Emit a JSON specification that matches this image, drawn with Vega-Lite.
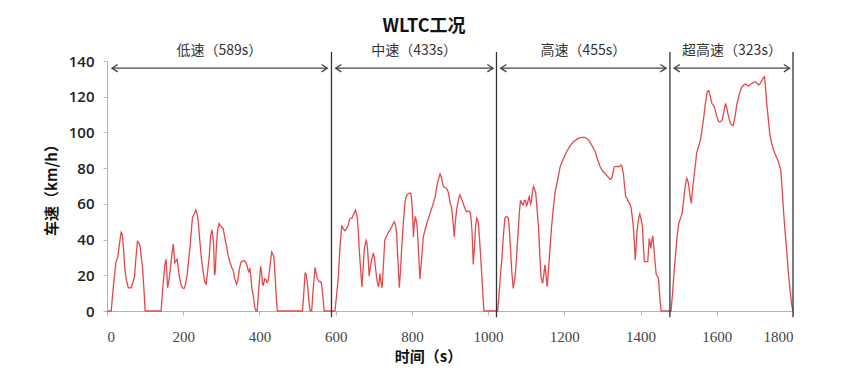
{
  "$schema": "https://vega.github.io/schema/vega-lite/v6.json",
  "width": 686,
  "height": 250,
  "autosize": "none",
  "padding": {"left": 107, "top": 61, "right": 53, "bottom": 64},
  "background": "white",
  "title": {"text": "WLTC工况", "font": "Noto Sans CJK SC", "fontSize": 18, "fontWeight": "bold", "color": "#111", "anchor": "middle", "frame": "group", "dx": -26, "offset": 8},
  "config": {"view": {"stroke": null}, "axis": {"labelOverlap": false}, "axisY": {"labelOverlap": false, "tickCount": 8}},
  "datasets": {
    "speed": [
      {"t":0,"v":0},{"t":11,"v":0},{"t":16,"v":12},{"t":23,"v":27},{"t":28,"v":30},{"t":33,"v":38},{"t":37,"v":44},{"t":40,"v":43},{"t":43,"v":36},{"t":47,"v":23},{"t":51,"v":17},{"t":56,"v":13},{"t":63,"v":13},{"t":68,"v":16},{"t":72,"v":19},{"t":76,"v":30},{"t":80,"v":39},{"t":84,"v":38},{"t":87,"v":36},{"t":90,"v":30},{"t":93,"v":25},{"t":97,"v":12},{"t":100,"v":0},
      {"t":142,"v":0},{"t":147,"v":15},{"t":152,"v":26},{"t":155,"v":29},{"t":157,"v":22},{"t":159,"v":13},{"t":163,"v":18},{"t":167,"v":25},{"t":171,"v":33},{"t":174,"v":37.5},{"t":176,"v":32},{"t":178,"v":27},{"t":181,"v":28},{"t":184,"v":29},{"t":187,"v":24},{"t":190,"v":19},{"t":194,"v":15},{"t":198,"v":13},{"t":202,"v":12.5},{"t":205,"v":14},{"t":210,"v":20},{"t":214,"v":28},{"t":218,"v":36},{"t":224,"v":52},{"t":233,"v":56.5},{"t":237,"v":54},{"t":240,"v":49},{"t":244,"v":38},{"t":248,"v":29},{"t":253,"v":21},{"t":257,"v":16},{"t":260,"v":15},{"t":264,"v":22},{"t":268,"v":30},{"t":272,"v":42},{"t":275,"v":45.5},{"t":278,"v":42},{"t":280,"v":36},{"t":282,"v":20},{"t":284,"v":22},{"t":287,"v":36},{"t":290,"v":45},{"t":294,"v":49},{"t":298,"v":47.5},{"t":301,"v":47},{"t":305,"v":46},{"t":310,"v":40},{"t":314,"v":36},{"t":318,"v":31},{"t":323,"v":27},{"t":328,"v":24},{"t":331,"v":23},{"t":335,"v":18},{"t":340,"v":15},{"t":343,"v":17},{"t":347,"v":23},{"t":351,"v":27},{"t":356,"v":28},{"t":361,"v":28},{"t":365,"v":27},{"t":368,"v":25},{"t":370,"v":23},{"t":372,"v":22},{"t":375,"v":24},{"t":378,"v":18},{"t":380,"v":13},{"t":384,"v":8},{"t":388,"v":2},{"t":391,"v":0},{"t":394,"v":0},{"t":398,"v":12},{"t":403,"v":25},{"t":406,"v":21},{"t":408,"v":15},{"t":410,"v":14.5},{"t":414,"v":18},{"t":417,"v":17.5},{"t":420,"v":16},{"t":423,"v":17},{"t":427,"v":24},{"t":432,"v":33},{"t":435,"v":32},{"t":438,"v":30},{"t":441,"v":20},{"t":444,"v":8},{"t":447,"v":0},
      {"t":513,"v":0},{"t":517,"v":12},{"t":520,"v":21.5},{"t":523,"v":20},{"t":526,"v":15},{"t":530,"v":5},{"t":533,"v":0},{"t":537,"v":0},{"t":541,"v":12},{"t":546,"v":24.5},{"t":549,"v":21},{"t":552,"v":18},{"t":557,"v":16.5},{"t":561,"v":16.5},{"t":563,"v":15},{"t":567,"v":7},{"t":570,"v":0},
      {"t":598,"v":0},{"t":602,"v":8},{"t":607,"v":19},{"t":611,"v":35},{"t":616,"v":48},{"t":620,"v":46},{"t":624,"v":45},{"t":628,"v":46},{"t":633,"v":48},{"t":636,"v":51},{"t":639,"v":52},{"t":643,"v":52},{"t":646,"v":53.7},{"t":649,"v":55},{"t":652,"v":56.5},{"t":655,"v":54},{"t":657,"v":52},{"t":660,"v":42},{"t":662,"v":34},{"t":666,"v":22},{"t":669,"v":13.5},{"t":672,"v":24},{"t":675,"v":34},{"t":678,"v":38},{"t":680,"v":39.5},{"t":682,"v":38},{"t":684,"v":34},{"t":688,"v":19.5},{"t":691,"v":24},{"t":694,"v":28.5},{"t":697,"v":31},{"t":699,"v":32.5},{"t":702,"v":29},{"t":704,"v":25},{"t":708,"v":18},{"t":712,"v":13.5},{"t":714,"v":16},{"t":716,"v":21},{"t":719,"v":16},{"t":722,"v":13},{"t":725,"v":25},{"t":729,"v":40},{"t":734,"v":42},{"t":738,"v":44},{"t":742,"v":45},{"t":747,"v":47},{"t":751,"v":49},{"t":754,"v":50},{"t":757,"v":48},{"t":760,"v":43.5},{"t":763,"v":30},{"t":767,"v":13},{"t":770,"v":22},{"t":773,"v":34},{"t":777,"v":48},{"t":782,"v":61},{"t":785,"v":64},{"t":788,"v":65},{"t":792,"v":66},{"t":797,"v":66},{"t":799,"v":63},{"t":801,"v":57.5},{"t":803,"v":48},{"t":804,"v":41.5},{"t":806,"v":48},{"t":809,"v":53},{"t":811,"v":51},{"t":814,"v":47},{"t":817,"v":35},{"t":821,"v":18},{"t":825,"v":28},{"t":830,"v":41.5},{"t":834,"v":45},{"t":839,"v":49},{"t":845,"v":53},{"t":852,"v":57.5},{"t":857,"v":61},{"t":861,"v":64},{"t":864,"v":68},{"t":867,"v":71.5},{"t":870,"v":74},{"t":874,"v":76.7},{"t":877,"v":75},{"t":880,"v":72},{"t":883,"v":69.5},{"t":888,"v":69},{"t":893,"v":68},{"t":896,"v":66},{"t":900,"v":61},{"t":904,"v":58},{"t":908,"v":50},{"t":911,"v":41.5},{"t":914,"v":50},{"t":918,"v":57.5},{"t":922,"v":62},{"t":926,"v":65},{"t":930,"v":63},{"t":935,"v":60},{"t":940,"v":57},{"t":944,"v":55.5},{"t":948,"v":56},{"t":953,"v":55.5},{"t":956,"v":50},{"t":958,"v":43.5},{"t":961,"v":26},{"t":964,"v":35},{"t":967,"v":47},{"t":970,"v":52},{"t":974,"v":50},{"t":977,"v":42},{"t":981,"v":28.5},{"t":985,"v":14},{"t":989,"v":0},
      {"t":1025,"v":0},{"t":1029,"v":10},{"t":1033,"v":22},{"t":1036,"v":28.5},{"t":1040,"v":42},{"t":1044,"v":52},{"t":1049,"v":53},{"t":1053,"v":52},{"t":1056,"v":45},{"t":1059,"v":34},{"t":1062,"v":22},{"t":1066,"v":12.7},{"t":1070,"v":18},{"t":1073,"v":24.8},{"t":1076,"v":35},{"t":1079,"v":45.4},{"t":1082,"v":55},{"t":1085,"v":62},{"t":1089,"v":60},{"t":1092,"v":59.4},{"t":1095,"v":62},{"t":1098,"v":62},{"t":1101,"v":59},{"t":1103,"v":60},{"t":1106,"v":63},{"t":1108,"v":64},{"t":1111,"v":60},{"t":1113,"v":61},{"t":1116,"v":66},{"t":1119,"v":69.6},{"t":1122,"v":68},{"t":1125,"v":66},{"t":1128,"v":58},{"t":1132,"v":48},{"t":1136,"v":30},{"t":1139,"v":19},{"t":1143,"v":15.5},{"t":1146,"v":20},{"t":1149,"v":25.8},{"t":1152,"v":20},{"t":1155,"v":13.6},{"t":1158,"v":22},{"t":1162,"v":34},{"t":1166,"v":46},{"t":1171,"v":57.5},{"t":1176,"v":67},{"t":1182,"v":73},{"t":1189,"v":80.8},{"t":1197,"v":85},{"t":1206,"v":89.2},{"t":1215,"v":92.5},{"t":1224,"v":94.8},{"t":1235,"v":96.5},{"t":1246,"v":97.2},{"t":1254,"v":97.2},{"t":1260,"v":96.5},{"t":1267,"v":94.8},{"t":1274,"v":92},{"t":1281,"v":89.2},{"t":1287,"v":85},{"t":1294,"v":80.8},{"t":1300,"v":78.5},{"t":1307,"v":77},{"t":1313,"v":75.5},{"t":1320,"v":73.7},{"t":1323,"v":74},{"t":1326,"v":75.6},{"t":1331,"v":80.8},{"t":1337,"v":81},{"t":1343,"v":80.8},{"t":1347,"v":81.5},{"t":1350,"v":81.7},{"t":1353,"v":79},{"t":1355,"v":77},{"t":1358,"v":70},{"t":1361,"v":64},{"t":1365,"v":63},{"t":1368,"v":61.2},{"t":1372,"v":60},{"t":1375,"v":58},{"t":1378,"v":53},{"t":1381,"v":47.2},{"t":1384,"v":37},{"t":1386,"v":28.6},{"t":1389,"v":38},{"t":1391,"v":45.4},{"t":1395,"v":52},{"t":1398,"v":54.3},{"t":1401,"v":52},{"t":1405,"v":47.2},{"t":1407,"v":38},{"t":1410,"v":27.6},{"t":1415,"v":27.6},{"t":1419,"v":27.6},{"t":1421,"v":35},{"t":1423,"v":40.7},{"t":1425,"v":38},{"t":1427,"v":35},{"t":1430,"v":40},{"t":1432,"v":42},{"t":1434,"v":38},{"t":1436,"v":32.3},{"t":1439,"v":25},{"t":1441,"v":20.7},{"t":1444,"v":19.5},{"t":1447,"v":18.3},{"t":1450,"v":9},{"t":1454,"v":0},
      {"t":1480,"v":0},{"t":1484,"v":10},{"t":1488,"v":22},{"t":1492,"v":32.3},{"t":1496,"v":42},{"t":1500,"v":49},{"t":1505,"v":52},{"t":1509,"v":54.7},{"t":1512,"v":60},{"t":1515,"v":65.9},{"t":1518,"v":71},{"t":1521,"v":74.3},{"t":1524,"v":73},{"t":1527,"v":69.6},{"t":1530,"v":64},{"t":1533,"v":60.3},{"t":1536,"v":67},{"t":1540,"v":75.2},{"t":1544,"v":82},{"t":1547,"v":88.3},{"t":1552,"v":92},{"t":1557,"v":95.7},{"t":1561,"v":101},{"t":1566,"v":108.8},{"t":1570,"v":116},{"t":1575,"v":122.8},{"t":1579,"v":123.4},{"t":1583,"v":120},{"t":1587,"v":116.3},{"t":1592,"v":115},{"t":1596,"v":112.5},{"t":1600,"v":109},{"t":1605,"v":106},{"t":1610,"v":106},{"t":1614,"v":107},{"t":1619,"v":112},{"t":1623,"v":116.3},{"t":1626,"v":114},{"t":1629,"v":110.7},{"t":1633,"v":107},{"t":1636,"v":105.1},{"t":1640,"v":104},{"t":1643,"v":103.8},{"t":1648,"v":109},{"t":1653,"v":116.3},{"t":1660,"v":122},{"t":1666,"v":125.6},{"t":1671,"v":126.5},{"t":1675,"v":127.1},{"t":1679,"v":126.5},{"t":1684,"v":126},{"t":1688,"v":126.8},{"t":1692,"v":127.5},{"t":1697,"v":128},{"t":1701,"v":128.4},{"t":1706,"v":127.5},{"t":1710,"v":126.5},{"t":1714,"v":127.5},{"t":1718,"v":129},{"t":1722,"v":130.5},{"t":1725,"v":131.2},{"t":1728,"v":125},{"t":1731,"v":116.3},{"t":1735,"v":108},{"t":1739,"v":99.5},{"t":1744,"v":94},{"t":1749,"v":90},{"t":1755,"v":87},{"t":1760,"v":84.5},{"t":1764,"v":82},{"t":1768,"v":79},{"t":1771,"v":70},{"t":1775,"v":56.5},{"t":1779,"v":45},{"t":1784,"v":32.3},{"t":1788,"v":21},{"t":1793,"v":10},{"t":1797,"v":3},{"t":1800,"v":0}
    ],
    "phases": [
      {"label": "低速（589s）", "boundary": 589, "a0": 13, "a1": 578, "mid": 295},
      {"label": "中速（433s）", "boundary": 1022, "a0": 600, "a1": 1013, "mid": 806},
      {"label": "高速（455s）", "boundary": 1477, "a0": 1033, "a1": 1467, "mid": 1250},
      {"label": "超高速（323s）", "boundary": 1800, "a0": 1488, "a1": 1791, "mid": 1640}
    ]
  },
  "layer": [
    {
      "data": {"name": "speed"},
      "mark": {"type": "line", "color": "#e5484b", "strokeWidth": 1.3, "clip": false},
      "encoding": {
        "x": {"field": "t", "type": "quantitative",
          "scale": {"domain": [0, 1800], "nice": false, "zero": false},
          "axis": {"title": "时间（s）", "values": [0,100,200,300,400,500,600,700,800,900,1000,1100,1200,1300,1400,1500,1600,1700,1800],
            "format": "d", "labelExpr": "datum.value % 200 === 0 ? datum.label : ''", "labelOverlap": false,
            "grid": false, "domainColor": "#b5b5b5", "tickColor": "#b5b5b5", "tickSize": 4,
            "labelFont": "Liberation Serif", "labelFontSize": 15, "labelColor": "#444", "labelPadding": 14,
            "titleFont": "Noto Sans CJK SC", "titleFontSize": 15, "titleFontWeight": "bold", "titleColor": "#111", "titlePadding": 5, "titleX": 321}},
        "y": {"field": "v", "type": "quantitative",
          "scale": {"domain": [0, 140], "nice": false},
          "axis": {"title": "车速（km/h）", "values": [0,20,40,60,80,100,120,140], "labelOverlap": false, "format": "d",
            "grid": false, "domainColor": "#b5b5b5", "tickColor": "#b5b5b5", "tickSize": 4,
            "labelFont": "Open Sans", "labelFontSize": 15, "labelFontWeight": 600, "labelColor": "#222", "labelPadding": 9,
            "titleFont": "Noto Sans CJK SC", "titleFontSize": 15, "titleFontWeight": "bold", "titleColor": "#111", "titlePadding": 9}}
      }
    },
    {
      "data": {"name": "phases"},
      "mark": {"type": "rule", "color": "#333", "strokeWidth": 1.3},
      "encoding": {
        "x": {"field": "boundary", "type": "quantitative", "axis": {"title": "时间（s）"}},
        "y": {"datum": -3.5, "axis": {"title": "车速（km/h）", "values": [0,20,40,60,80,100,120,140], "labelOverlap": false}},
        "y2": {"datum": 145}
      }
    },
    {
      "data": {"name": "phases"},
      "mark": {"type": "rule", "color": "#444", "strokeWidth": 1.2},
      "encoding": {
        "x": {"field": "a0", "type": "quantitative", "axis": {"title": "时间（s）"}},
        "x2": {"field": "a1"},
        "y": {"datum": 136, "axis": {"title": "车速（km/h）", "values": [0,20,40,60,80,100,120,140], "labelOverlap": false}}
      }
    },
    {
      "data": {"name": "phases"},
      "mark": {"type": "point", "shape": "M1,-0.65L0,0L1,0.65", "filled": false, "stroke": "#444", "strokeWidth": 1.3, "size": 130, "opacity": 1},
      "encoding": {
        "x": {"field": "a0", "type": "quantitative", "axis": {"title": "时间（s）"}},
        "y": {"datum": 136, "axis": {"title": "车速（km/h）", "values": [0,20,40,60,80,100,120,140], "labelOverlap": false}}
      }
    },
    {
      "data": {"name": "phases"},
      "mark": {"type": "point", "shape": "M-1,-0.65L0,0L-1,0.65", "filled": false, "stroke": "#444", "strokeWidth": 1.3, "size": 130, "opacity": 1},
      "encoding": {
        "x": {"field": "a1", "type": "quantitative", "axis": {"title": "时间（s）"}},
        "y": {"datum": 136, "axis": {"title": "车速（km/h）", "values": [0,20,40,60,80,100,120,140], "labelOverlap": false}}
      }
    },
    {
      "data": {"name": "phases"},
      "mark": {"type": "text", "font": "Noto Sans CJK SC", "fontSize": 14, "color": "#333", "baseline": "middle", "align": "center"},
      "encoding": {
        "x": {"field": "mid", "type": "quantitative", "axis": {"title": "时间（s）"}},
        "y": {"datum": 145.5, "axis": {"title": "车速（km/h）", "values": [0,20,40,60,80,100,120,140], "labelOverlap": false}},
        "text": {"field": "label"}
      }
    }
  ]
}
